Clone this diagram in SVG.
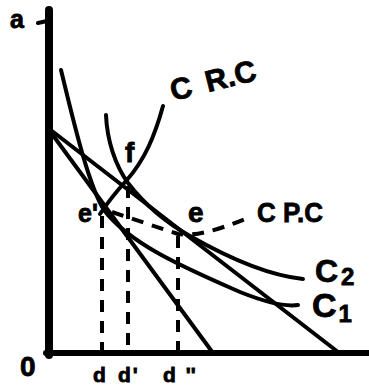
<svg xmlns="http://www.w3.org/2000/svg" width="369" height="388" viewBox="0 0 369 388">
<style>
.ax{stroke:#000;fill:none;stroke-linecap:round}
.cv{stroke:#000;fill:none;stroke-width:4;stroke-linecap:round;stroke-linejoin:round}
.ds{stroke:#000;fill:none;stroke-width:4;stroke-dasharray:12 9;stroke-linecap:butt}
.t{font-family:"Liberation Sans",Arial,sans-serif;font-weight:bold;fill:#000;stroke:#000;stroke-width:0.8}
</style>
<rect width="369" height="388" fill="#fff"/>
<g id="axes">
<path class="ax" stroke-width="8" d="M49,10 L49,355"/>
<path class="ax" stroke-width="4" d="M38,23 L47,21"/>
<path class="ax" stroke-width="6" d="M46,353 L369,353"/>
</g>
<g id="curves">
<path id="budget2" class="cv" d="M52,131 L338,352"/>
<path id="budget1" class="cv" d="M52,134 L213,353"/>
<path id="c1" class="cv" d="M61,70 C72,115 88,185 104,210 C130,245 190,270 240,292 C265,302 285,307 298,305"/>
<path id="c2" class="cv" d="M106,115 C107,140 115,165 128,183 C145,205 165,222 190,236 C225,256 265,275 303,279"/>
<path id="crc" class="cv" d="M163,106 C155,135 145,160 126,181 C115,193 108,202 100,214"/>
</g>
<g id="connectors">
<path class="ds" d="M102,216 L102,352"/>
<path class="ds" d="M128,186 L128,352"/>
<path class="ds" d="M178,236 L178,352"/>
<path class="ds" d="M112,212 L178,234 Q200,238 250,217"/>
</g>
<g id="labels">
<text class="t" x="10" y="28" font-size="25">a</text>
<text class="t" x="20" y="376" font-size="28">0</text>
<text class="t" x="93" y="382" font-size="21">d</text>
<text class="t" x="118" y="382" font-size="21">d<tspan dx="2">'</tspan></text>
<text class="t" x="163" y="382" font-size="21">d<tspan dx="10">''</tspan></text>
<text class="t" x="78" y="222" font-size="25">e'</text>
<text class="t" x="188" y="222" font-size="28">e</text>
<text class="t" x="125" y="162" font-size="28">f</text>
<text class="t" x="173" y="101" font-size="30" word-spacing="6" transform="rotate(-14 173 101)">C R.C</text>
<text class="t" x="257" y="222" font-size="28" textLength="66" lengthAdjust="spacingAndGlyphs">C P.C</text>
<text class="t" x="315" y="282" font-size="32">C<tspan dx="3" dy="3" font-size="24">2</tspan></text>
<text class="t" x="312" y="317" font-size="34">C<tspan dx="2" dy="5" font-size="24">1</tspan></text>
</g>
</svg>
